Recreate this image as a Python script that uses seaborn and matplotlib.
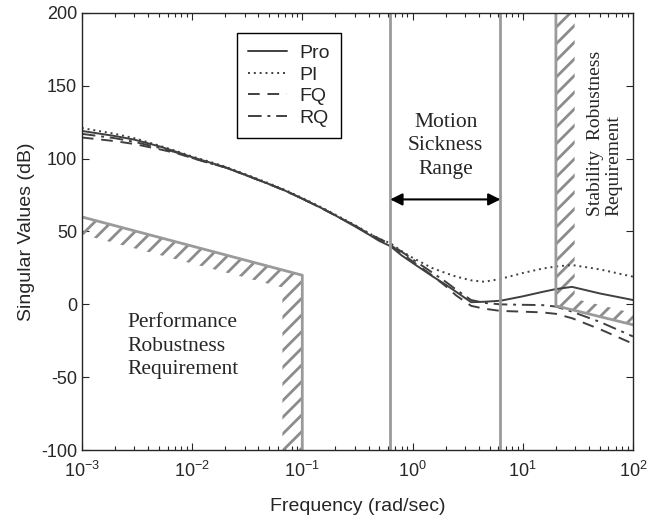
import numpy as np
import pandas as pd
import matplotlib
matplotlib.use("Agg")
import matplotlib.pyplot as plt
import seaborn as sb

# singular value curves
freq = [0.001, 0.002, 0.003, 0.005, 0.007, 0.01, 0.015, 0.02, 0.03, 0.05,
        0.07, 0.1, 0.15, 0.2, 0.3, 0.4, 0.5, 0.628, 0.8, 1,
        1.5, 2, 2.5, 3.4, 4.5, 6.3, 10, 15, 20, 28,
        50, 100]
pro = [119, 115.5, 113, 108.5, 105, 101, 97, 94, 89, 82.5,
       78, 72.5, 66, 61, 53.5, 48, 43.5, 40, 33.5, 28.5,
       19.5, 13.5, 8.5, 1.5, 1.8, 2.5, 5.5, 8.5, 10.5, 12,
       7.5, 3]
pi_ = [121, 117, 114, 109, 105.5, 101.5, 97.5, 94.5, 89.5, 83,
       78.5, 73, 66.5, 61.5, 54.5, 49, 45, 42, 36.5, 32,
       25, 21.5, 19, 16.5, 15.5, 17.5, 21.5, 24.5, 26, 27,
       24, 19]
fq = [114.5, 112, 110, 106.5, 104, 100.5, 96.5, 94, 89, 82.5,
      78, 72.5, 66, 61, 54, 48.5, 44.5, 41, 35, 29.5,
      20, 12.5, 6, -1, -3, -4.5, -5, -5.5, -6.5, -9.5,
      -17, -27]
rq = [117, 114, 111.5, 107.5, 104.5, 100.5, 96.5, 94, 89, 82.5,
      78, 72.5, 66, 61, 54, 48.5, 45, 41.5, 36, 31,
      22, 15.5, 10, 3, 1, 0, -0.3, -0.5, -1.5, -5,
      -12, -22]
series = ["Pro", "PI", "FQ", "RQ"]

# requirement boundaries
perf_freq = [0.001, 0.1, 0.1]
perf_db = [60, 20, -100]
stab_freq = [20, 20, 100]
stab_db = [200, -1, -14]
motion_range = [0.628, 6.28]

df = pd.DataFrame({"freq": freq * 4,
                   "sv": pro + pi_ + fq + rq,
                   "ctrl": np.repeat(series, len(freq))})

sb.set_style("ticks")
plt.rcParams["font.family"] = ["Liberation Sans", "DejaVu Sans"]
plt.rcParams["axes.unicode_minus"] = False
plt.rcParams["hatch.linewidth"] = 2.0
plt.rcParams["hatch.color"] = "#8c8c8c"
plt.rcParams["xtick.direction"] = "in"
plt.rcParams["ytick.direction"] = "in"

fig = plt.figure(figsize=(6.6, 5.15), dpi=100)
ax = fig.add_axes([0.124, 0.126, 0.835, 0.849])

gray = "#9a9a9a"
styles = {"Pro": "-", "PI": (0, (1, 2)), "FQ": (0, (6, 4)), "RQ": (0, (7, 3, 1.5, 3))}
for name in series:
    sub = df[df.ctrl == name]
    sb.lineplot(data=sub, x="freq", y="sv", ax=ax, color="#404040",
                linestyle=styles[name], linewidth=1.4, label=name)

# performance robustness boundary + hatch
band = 12
x0, x1 = perf_freq[0], perf_freq[1]
xin = x1 * 10 ** -0.18
slope = (perf_db[1] - perf_db[0]) / (np.log10(x1) - np.log10(x0))
yin = perf_db[0] - band + slope * (np.log10(xin) - np.log10(x0))
ax.fill([x0, x1, x1, xin, xin, x0],
        [perf_db[0], perf_db[1], perf_db[2], perf_db[2], yin, perf_db[0] - band],
        facecolor="none", edgecolor="#8c8c8c", hatch="//", linewidth=0)
ax.plot(perf_freq, perf_db, color=gray, linewidth=2)

# stability robustness boundary + hatch
sband = 8
sx = stab_freq[0] * 10 ** 0.17
sslope = (stab_db[2] - stab_db[1]) / (np.log10(stab_freq[2]) - np.log10(stab_freq[1]))
sy = stab_db[1] + sband + sslope * (np.log10(sx) - np.log10(stab_freq[1]))
ax.fill([stab_freq[0], sx, sx, stab_freq[2], stab_freq[2], stab_freq[1]],
        [stab_db[0], stab_db[0], sy, stab_db[2] + sband, stab_db[2], stab_db[1]],
        facecolor="none", edgecolor="#8c8c8c", hatch="//", linewidth=0)
ax.plot(stab_freq, stab_db, color=gray, linewidth=2)

# motion sickness range
for f in motion_range:
    ax.axvline(f, color=gray, linewidth=2)
ax.annotate("", xy=(motion_range[0], 72), xytext=(motion_range[1], 72),
            arrowprops=dict(arrowstyle="<|-|>", color="black", lw=1.5,
                            mutation_scale=18, shrinkA=0, shrinkB=0))

serif = ["Liberation Serif", "DejaVu Serif"]
ax.text(2.0, 108.7, "Motion\nSickness\nRange", ha="center", va="center",
        family=serif, fontsize=15.5, linespacing=1.3)
ax.text(0.0026, -28.6, "Performance\nRobustness\nRequirement", ha="left",
        va="center", family=serif, fontsize=15.5, linespacing=1.3)
ax.text(55.6, 117.6, "Stability  Robustness\nRequirement", ha="center",
        va="center", rotation=90, family=serif, fontsize=14,
        multialignment="left", linespacing=1.1)

ax.set_xscale("log")
ax.set_xlim(1e-3, 1e2)
ax.set_ylim(-100, 200)
ax.set_yticks(range(-100, 201, 50))
ax.tick_params(which="both", top=True, right=True, labelsize=13, width=0.8)
ax.tick_params(which="major", length=5)
ax.tick_params(which="minor", length=3)
ax.tick_params(axis="x", which="both", pad=8)
for s in ax.spines.values():
    s.set_linewidth(1.0)
    s.set_visible(True)
ax.set_xlabel("Frequency (rad/sec)", fontsize=14, labelpad=12)
ax.set_ylabel("Singular Values (dB)", fontsize=14, labelpad=4)

leg = ax.legend(loc="upper left", bbox_to_anchor=(0.281, 0.954), fontsize=14,
                frameon=True, fancybox=False, edgecolor="black",
                handlelength=2.0, handletextpad=0.6, labelspacing=0.2,
                borderpad=0.6, borderaxespad=0)
leg.get_frame().set_linewidth(1.0)
leg.get_frame().set_alpha(1)

fig.savefig("out.png", dpi=100)
